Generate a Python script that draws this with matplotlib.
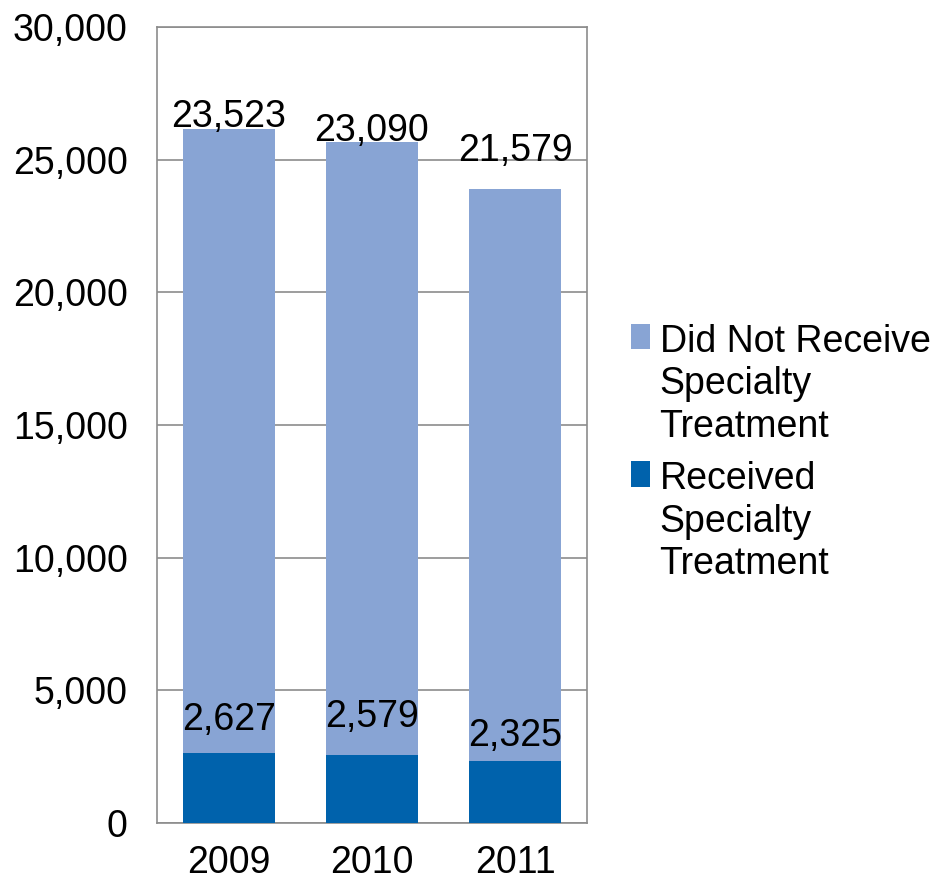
import matplotlib
matplotlib.use("Agg")
import matplotlib.pyplot as plt
from matplotlib.patches import Rectangle
from matplotlib.legend_handler import HandlerPatch
import numpy as np

plt.rcParams['font.family'] = ['Liberation Sans', 'DejaVu Sans']

# data
years = ['2009', '2010', '2011']
received = [2627, 2579, 2325]
not_received = [23523, 23090, 21579]

# label nudges (points) so the numbers sit where the original has them
top_offsets = [9, 8, 27]
bottom_offsets = [24, 27, 18]

light = '#88A4D4'
dark = '#0062AC'
grid = '#8C8C8C'
fs = 27

fig = plt.figure(figsize=(9.30, 8.81), dpi=100)
ax = fig.add_axes([0.1688, 0.0658, 0.4624, 0.9035])

x = np.arange(len(years))
w = 0.64
b1 = ax.bar(x, received, w, color=dark, label='Received\nSpecialty\nTreatment', zorder=3)
b2 = ax.bar(x, not_received, w, bottom=received, color=light,
            label='Did Not Receive\nSpecialty\nTreatment', zorder=3)

# numbers on the bars
for i in range(len(years)):
    tot = received[i] + not_received[i]
    ax.annotate(f'{not_received[i]:,}', (x[i], tot), xytext=(0, top_offsets[i]),
                textcoords='offset points', ha='center', va='center', fontsize=fs, zorder=4)
    ax.annotate(f'{received[i]:,}', (x[i], received[i]), xytext=(0, bottom_offsets[i]),
                textcoords='offset points', ha='center', va='center', fontsize=fs, zorder=4)

ax.set_xlim(-0.5, 2.5)
ax.set_ylim(0, 30000)
ax.set_yticks(np.arange(0, 30001, 5000))
ax.set_yticklabels([f'{v:,}' for v in range(0, 30001, 5000)])
ax.set_xticks(x)
ax.set_xticklabels(years)
ax.tick_params(axis='both', labelsize=fs, length=0)
ax.tick_params(axis='y', pad=21)
ax.tick_params(axis='x', pad=16)
ax.yaxis.grid(True, color=grid, linewidth=1.2, zorder=0)
for s in ax.spines.values():
    s.set_color(grid)
    s.set_linewidth(1.2)


# square sitting at the bottom of a slightly taller handle box
def square(legend, orig_handle, xdescent, ydescent, width, height, fontsize):
    return Rectangle((-xdescent, -ydescent), width, width)


handles = [b2, b1]
leg = fig.legend(handles, [h.get_label() for h in handles], loc='upper left',
                 bbox_to_anchor=(0.6785, 0.632), frameon=False, fontsize=fs,
                 handlelength=0.5, handleheight=0.66, handletextpad=0.26, labelspacing=0.45,
                 borderaxespad=0, borderpad=0,
                 handler_map={Rectangle: HandlerPatch(patch_func=square)})
for t in leg.get_texts():
    t.set_linespacing(1.22)
# put the colour squares next to the first line, like the original
for col in leg._legend_handle_box.get_children():
    for row in col.get_children():
        row.align = 'top'

fig.savefig('out.png', dpi=100)
